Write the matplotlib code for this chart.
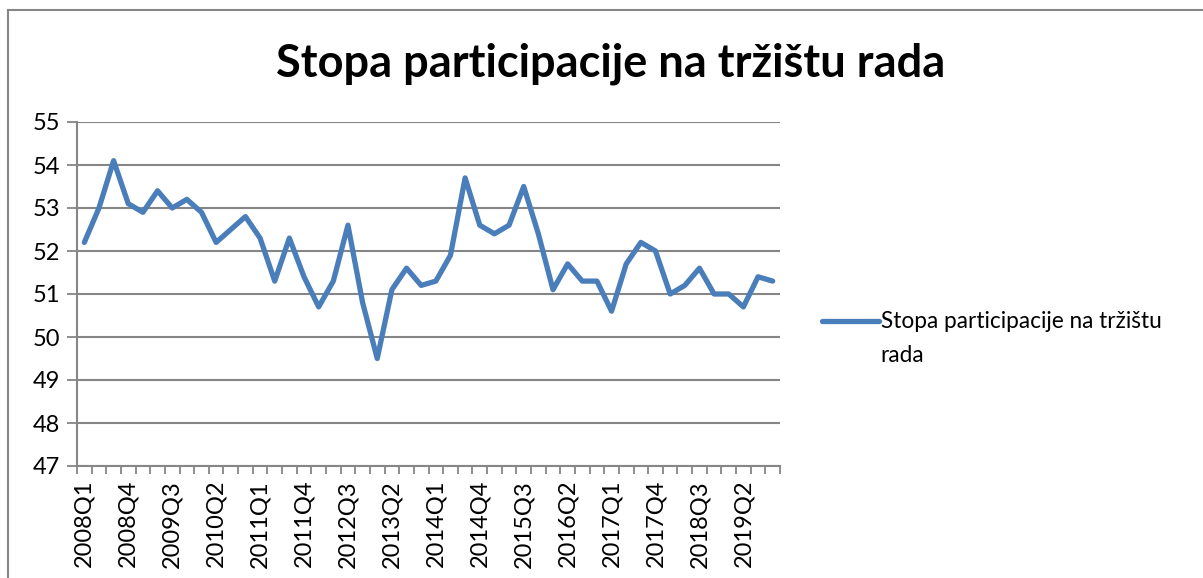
import numpy as np
import matplotlib.pyplot as plt
from matplotlib.patches import Rectangle

plt.rcParams['font.family'] = ['Lato', 'DejaVu Sans']

years = range(2008, 2020)
quarters = [f"{y}Q{q}" for y in years for q in range(1, 5)]

stopa = [52.2, 53.0, 54.1, 53.1, 52.9, 53.4, 53.0, 53.2,
         52.9, 52.2, 52.5, 52.8, 52.3, 51.3, 52.3, 51.4,
         50.7, 51.3, 52.6, 50.8, 49.5, 51.1, 51.6, 51.2,
         51.3, 51.9, 53.7, 52.6, 52.4, 52.6, 53.5, 52.4,
         51.1, 51.7, 51.3, 51.3, 50.6, 51.7, 52.2, 52.0,
         51.0, 51.2, 51.6, 51.0, 51.0, 50.7, 51.4, 51.3]

title = "Stopa participacije na tržištu rada"
label_lines = ["Stopa participacije na tržištu", "rada"]

grey = '#868686'
blue = '#4A7EBB'

fig = plt.figure(figsize=(12.03, 5.78), dpi=100)
ax = fig.add_axes([77 / 1203, 1 - 466 / 578, 703 / 1203, 344 / 578])

x = np.arange(len(stopa))
line, = ax.plot(x, stopa, color=blue, linewidth=3.8, solid_joinstyle='round',
                solid_capstyle='round', label=label_lines[0])

ax.set_xlim(-0.5, len(stopa) - 0.5)
ax.set_ylim(47, 55)
ax.set_yticks(range(47, 56))
ax.tick_params(axis='y', labelsize=17, length=7, width=1.3, color=grey, pad=5)
ax.yaxis.grid(True, color=grey, linewidth=1.5)
ax.set_axisbelow(True)

# category ticks sit between categories, labels on every third
ax.set_xticks(np.arange(-0.5, len(stopa), 1.0), minor=True)
ax.set_xticks(x[::3])
ax.set_xticklabels(quarters[::3], rotation=90, fontsize=17)
ax.tick_params(axis='x', which='major', length=0, pad=10)
ax.tick_params(axis='x', which='minor', length=6, width=1.3, color=grey)

for s in ['top', 'right']:
    ax.spines[s].set_visible(False)
for s in ['left', 'bottom']:
    ax.spines[s].set_color(grey)
    ax.spines[s].set_linewidth(1.5)

fig.text(611 / 1203, 1 - 64 / 578, title, ha='center', va='center',
         fontsize=32.5, fontweight='bold')

# legend: handle beside the first line, the wrapped word below it
leg = fig.legend(handles=[line], loc='center left', bbox_to_anchor=(822 / 1203, 1 - 322 / 578),
                 frameon=False, fontsize=16.3, handlelength=2.5, handletextpad=0.1,
                 borderpad=0, borderaxespad=0)
fig.text(880 / 1203, 1 - 355 / 578, label_lines[1], ha='left', va='center', fontsize=16.3)

fig.patches.append(Rectangle((8 / 1203, -0.1), 1.1, 1.1 - 10 / 578,
                             transform=fig.transFigure, fill=False,
                             edgecolor=grey, linewidth=1.5))

fig.savefig("out.png", dpi=100)
